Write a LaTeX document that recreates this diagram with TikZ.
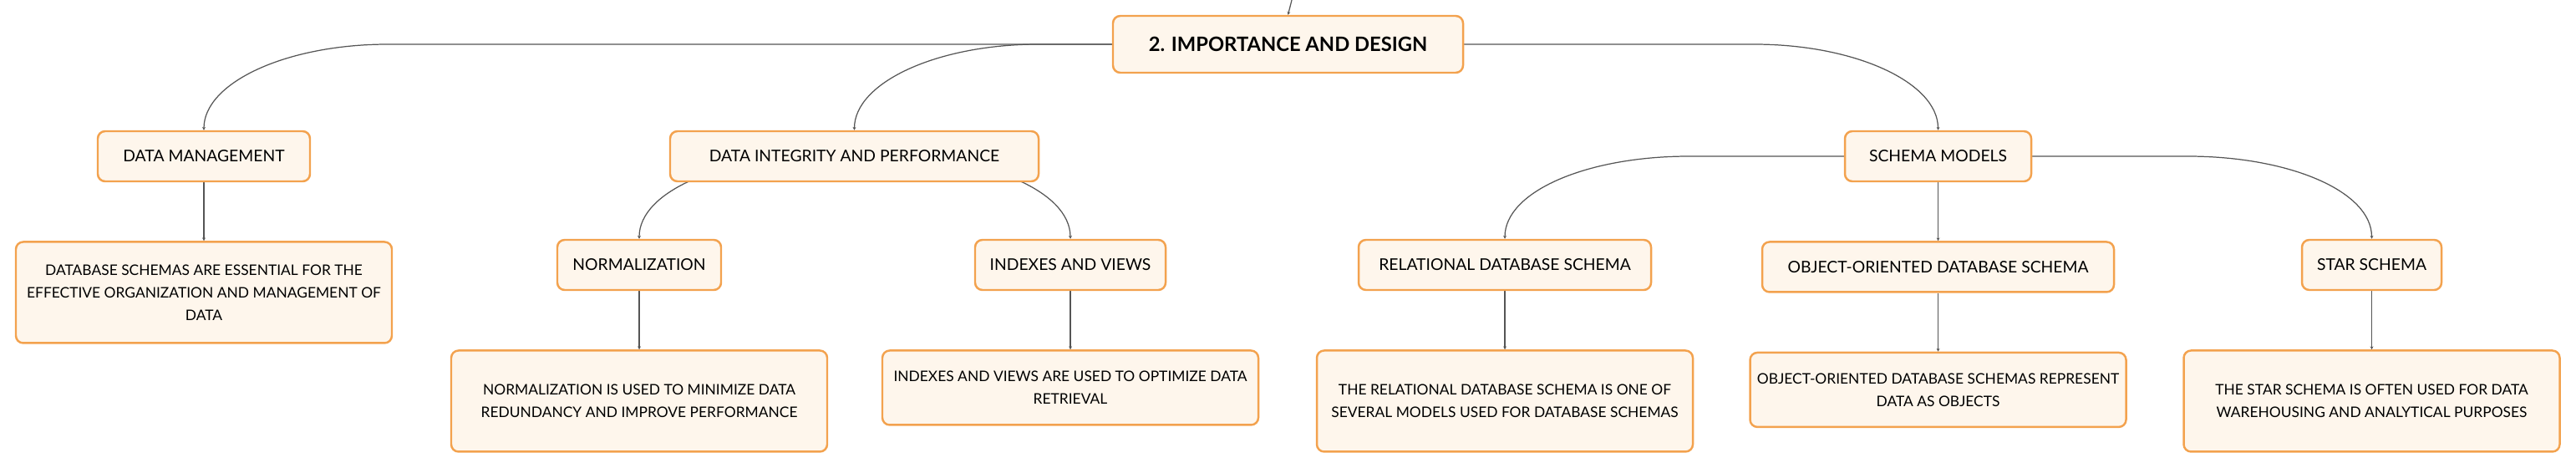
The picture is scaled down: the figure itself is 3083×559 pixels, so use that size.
\documentclass[tikz,border=0pt]{standalone}
\usepackage{fontspec}
\setmainfont{Lato}
\usetikzlibrary{positioning,calc,backgrounds,arrows.meta}

\definecolor{boxfill}{HTML}{FEF6EC}
\definecolor{boxline}{HTML}{F3A24E}
\definecolor{linkgray}{HTML}{555555}

\tikzset{
  topic/.style={draw=boxline, fill=boxfill, line width=1.4pt, rounded corners=5pt,
    inner sep=0pt, align=center, text=black, font=\fontsize{11}{15.4}\selectfont},
  subtopic/.style={topic, minimum height=12mm},
  note/.style={topic, minimum width=90mm, font=\fontsize{9.9}{15.4}\selectfont},
  link/.style={draw=linkgray, line width=0.7pt, -{Stealth[length=2.2pt,width=2.2pt]}},
  branch/.style={to path={-- ($(\tikztotarget |- \tikztostart)+(#1,0)$)
      .. controls +({-0.55*(#1)},0) and +(0,-57) .. (\tikztotarget)}}
}

\begin{document}
\begin{tikzpicture}[x=0.2mm, y=-0.2mm, node distance=1.4cm]
  \useasboundingbox (0,0) rectangle (3083,559);
  % main topic
  \node[topic, font=\fontsize{13.5}{16}\selectfont\bfseries,
        minimum width=83.8mm, minimum height=13.6mm] (root) at (1541.5,53) {2. IMPORTANCE AND DESIGN};
  \coordinate (above) at (1546,0);
  %
  \node[subtopic, minimum width=50.8mm] (dm) at (244,187) {DATA MANAGEMENT};
  \node[subtopic, minimum width=88.2mm] (dip) at (1022.5,187) {DATA INTEGRITY AND PERFORMANCE};
  \node[subtopic, minimum width=44.6mm] (sm) at (2319.5,187) {SCHEMA MODELS};
  %
  \node[subtopic, minimum width=39.2mm] (norm) at (765,317) {NORMALIZATION};
  \node[subtopic, minimum width=45.6mm] (idx) at (1281,317) {INDEXES AND VIEWS};
  \node[subtopic, minimum width=70mm] (rel) at (1801,317) {RELATIONAL DATABASE SCHEMA};
  \node[subtopic, minimum width=84.2mm, below=of sm] (oo) {OBJECT-ORIENTED DATABASE SCHEMA};
  \node[subtopic, minimum width=33.4mm] (star) at (2838.5,317) {STAR SCHEMA};
  %
  \node[note, minimum height=24.2mm, below=of dm] (dmnote)
    {DATABASE SCHEMAS ARE ESSENTIAL FOR THE\\EFFECTIVE ORGANIZATION AND MANAGEMENT OF\\DATA};
  \node[note, minimum height=24.2mm, below=of norm] (normnote)
    {NORMALIZATION IS USED TO MINIMIZE DATA\\REDUNDANCY AND IMPROVE PERFORMANCE};
  \node[note, minimum height=17.8mm, below=of idx] (idxnote)
    {INDEXES AND VIEWS ARE USED TO OPTIMIZE DATA\\RETRIEVAL};
  \node[note, minimum height=24.2mm, below=of rel] (relnote)
    {THE RELATIONAL DATABASE SCHEMA IS ONE OF\\SEVERAL MODELS USED FOR DATABASE SCHEMAS};
  \node[note, minimum height=17.8mm, below=of oo] (oonote)
    {OBJECT-ORIENTED DATABASE SCHEMAS REPRESENT\\DATA AS OBJECTS};
  \node[note, minimum height=24.2mm, below=of star] (starnote)
    {THE STAR SCHEMA IS OFTEN USED FOR DATA\\WAREHOUSING AND ANALYTICAL PURPOSES};
  %
  \begin{scope}[on background layer]
    \draw[link] (above) -- (root.north);
    \draw[link] (root.center) to[branch=220] (dm.north);
    \draw[link] (root.center) to[branch=220] (dip.north);
    \draw[link] (root.center) to[branch=-220] (sm.north);
    \draw[link] (dip.center) to[branch=220] (norm.north);
    \draw[link] (dip.center) to[branch=-220] (idx.north);
    \draw[link] (sm.center) to[branch=220] (rel.north);
    \draw[link] (sm.center) -- (oo.north);
    \draw[link] (sm.center) to[branch=-220] (star.north);
    \draw[link] (dm) -- (dmnote);
    \draw[link] (norm) -- (normnote);
    \draw[link] (idx) -- (idxnote);
    \draw[link] (rel) -- (relnote);
    \draw[link] (oo) -- (oonote);
    \draw[link] (star) -- (starnote);
  \end{scope}
\end{tikzpicture}
\end{document}
